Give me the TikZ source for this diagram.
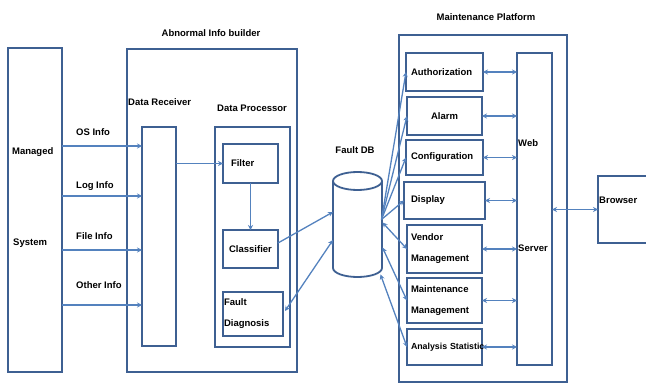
\documentclass[tikz,border=0pt]{standalone}
\usepackage{fontspec}
\setmainfont{Liberation Sans}
\usetikzlibrary{arrows.meta,shapes.geometric,positioning,calc}
\definecolor{frameblue}{RGB}{62,96,146}
\definecolor{linkblue}{RGB}{84,130,190}
\tikzset{outer box/.style={draw=frameblue,line width=2.2pt,inner sep=0pt,outer sep=0pt},
         inner box/.style={draw=frameblue,line width=1.8pt,inner sep=0pt,outer sep=0pt},
         txt/.style={font=\fontsize{9.5}{21}\selectfont\bfseries},
         lbl/.style={txt,inner sep=0pt},
         unit box/.style={inner box,txt,minimum width=75pt,text width=67pt,
                          inner xsep=4pt,align=left,minimum height=#1},
         info arrow/.style={linkblue,line width=1.3pt,-{Stealth[length=5pt,width=5pt]}},
         both arrow/.style={linkblue,line width=1.3pt,
                            {Stealth[length=5pt,width=5pt]}-{Stealth[length=5pt,width=5pt]}}}

\begin{document}
\begin{tikzpicture}[x=1pt,y=-1pt]
    \useasboundingbox (0,0) rectangle (646,383);
    %
    % managed system
    \node[outer box,minimum width=54pt,minimum height=324pt] (ms) at (35,210) {};
    \node[lbl,anchor=west] (ms-1) at (12,152) {Managed};
    \node[lbl,anchor=west] (ms-2) at (13,243) {System};
    %
    % abnormal info builder
    \node[outer box,minimum width=170pt,minimum height=323pt] (aib) at (212,210.5) {};
    \node[lbl] (aib-t) at (211,33) {Abnormal Info builder};
    \node[inner box,minimum width=34pt,minimum height=219pt] (rcv) at (159,236.5) {};
    \node[lbl,anchor=west] (rcv-t) at (128,102) {Data Receiver};
    \node[inner box,minimum width=75pt,minimum height=220pt] (prc) at (252.5,237) {};
    \node[lbl,anchor=west] (prc-t) at (217,108) {Data Processor};
    \node[inner box,txt,minimum width=55pt,minimum height=39pt,text width=39pt,
          inner xsep=8pt,align=left] (flt) at (250.5,163.5) {Filter};
    \node[inner box,txt,minimum width=55pt,minimum height=38pt] (cls) at (250.5,249) {Classifier};
    \node[inner box,txt,minimum width=60pt,minimum height=44pt,text width=58pt,
          inner xsep=1pt,align=left] (fd) at (253,314) {Fault\\Diagnosis};
    \foreach \Y/\L/\T [count=\N] in {146/132/OS Info,196/186/Log Info,250/236/File Info,305/285/Other Info}
        {
            \draw[info arrow] (ms.east |- 0,\Y) -- (rcv.west |- 0,\Y);
            \node[lbl,anchor=west] (in-\N) at (76,\L) {\T};
        }
    \draw[info arrow] (rcv.east |- flt) -- (flt.west);
    \draw[info arrow] (flt) -- (cls);
    %
    % fault db
    \node[minimum width=49pt,minimum height=105pt,inner sep=0pt,outer sep=0pt] (db) at (357.5,224.5) {};
    \draw[frameblue,line width=1.8pt] ($(db)+(0,-43.5)$) ellipse[x radius=24.5,y radius=9];
    \draw[frameblue,line width=1.8pt] ($(db)+(-24.5,-43.5)$) -- ($(db)+(-24.5,43.5)$)
        arc[start angle=180,end angle=0,x radius=24.5,y radius=9] -- ($(db)+(24.5,-43.5)$);
    \node[lbl] (db-t) at (355,150) {Fault DB};
    \draw[info arrow] ([yshift=6pt]cls.east) -- ($(db)+(-24.5,-12.5)$);
    \draw[both arrow] ([shift={(2,-3)}]fd.east) -- ($(db)+(-24.5,15.5)$);
    %
    % maintenance platform
    \node[outer box,minimum width=168pt,minimum height=347pt] (mp) at (483,208.5) {};
    \node[lbl] (mp-t) at (486,17) {Maintenance Platform};
    \node[unit box=38pt,inner xsep=5pt] (auth) at (444.5,72) {Authorization};
    \node[unit box=38pt,align=center] (alarm) at (444.5,116) {Alarm};
    \node[unit box=35pt,inner xsep=5pt] (cfg) at (444.5,157.5) {Configuration};
    \node[unit box=37pt,inner xsep=7pt] (disp) at (444.5,200.5) {Display};
    \node[unit box=48pt] (vnd) at (444.5,249) {Vendor\\Management};
    \node[unit box=45pt,inner xsep=3pt] (mnt) at (444.5,300.5) {Maintenance\\Management};
    \node[unit box=36pt,inner xsep=2pt,font=\fontsize{8.8}{21}\selectfont\bfseries] (ana)
        at (444.5,347) {\mbox{Analysis Statistic}};
    \node[inner box,minimum width=35pt,minimum height=312pt] (web) at (534.5,209) {};
    \node[lbl,anchor=west] (web-1) at (518,143) {Web};
    \node[lbl,anchor=west] (web-2) at (518,248) {Server};
    \foreach \N in {auth,alarm,cfg,disp}
        {\draw[info arrow] ($(db)+(24,-5)$) -- (\N.west);}
    \draw[both arrow] ($(db)+(25,-2)$) -- (vnd.west);
    \draw[both arrow] ($(db)+(25,23)$) -- (mnt.west);
    \draw[both arrow] ($(db)+(23,50)$) -- (ana.west);
    \foreach \N in {auth,alarm,cfg,disp,vnd,mnt,ana}
        {\draw[both arrow] (\N.east) -- (\N.east -| web.west);}
    %
    % browser
    \node[outer box,minimum width=54pt,minimum height=67pt] (brw) at (625,209.5) {};
    \node[lbl,anchor=west] (brw-t) at (599,200) {Browser};
    \draw[both arrow] (web.east |- brw.west) -- (brw.west);
\end{tikzpicture}
\end{document}
